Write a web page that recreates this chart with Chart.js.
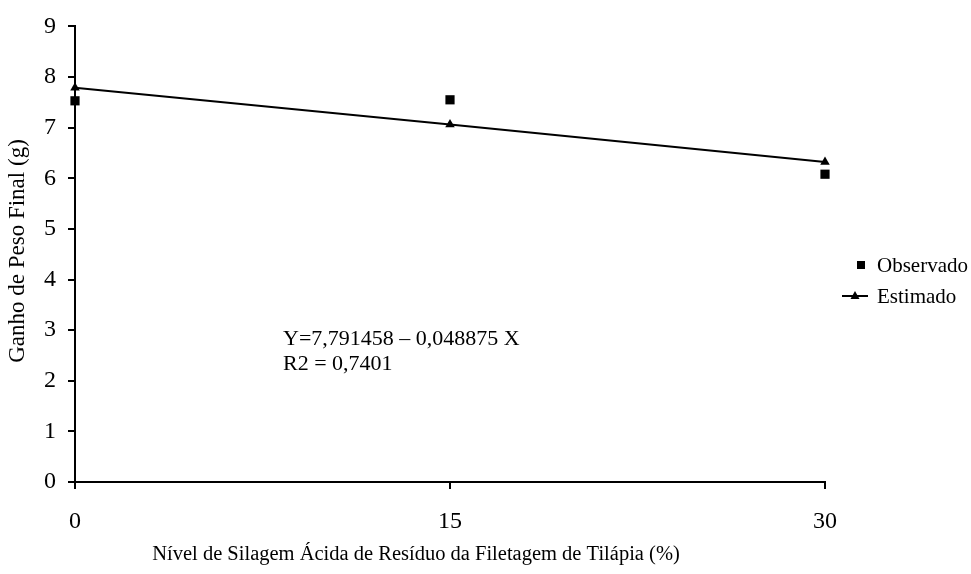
<!DOCTYPE html>
<html>
<head>
<meta charset="utf-8">
<script src="https://cdn.jsdelivr.net/npm/chart.js@4/dist/chart.umd.min.js"></script>
<style>
  html, body { margin: 0; padding: 0; background: #fff; }
  #wrap { width: 971px; height: 574px; position: relative; }
</style>
</head>
<body>
<div id="wrap"><canvas id="chart" width="971" height="574"></canvas></div>
<script>
// data
const niveis = [0, 15, 30];
const observado = [7.53, 7.55, 6.08];
const estimado = [7.79, 7.06, 6.32];
const yTicks = [0, 1, 2, 3, 4, 5, 6, 7, 8, 9];
const xTicks = [0, 15, 30];

const serif = '"Liberation Serif", "Times New Roman", serif';

const toPoints = (xs, ys) => xs.map((x, i) => ({ x: x, y: ys[i] }));

// legend, equation and axis titles drawn by hand so they sit where the original has them
const extras = {
  id: 'extras',
  afterDraw(chart) {
    const ctx = chart.ctx;
    ctx.save();
    ctx.fillStyle = '#000';
    ctx.strokeStyle = '#000';
    ctx.textBaseline = 'middle';

    // equation
    ctx.font = '22px ' + serif;
    ctx.textAlign = 'left';
    ctx.fillText('Y=7,791458 \u2013 0,048875 X', 283, 339);
    ctx.fillText('R2 = 0,7401', 283, 364);

    // legend
    ctx.font = '21px ' + serif;
    ctx.fillRect(857, 261, 8, 8);
    ctx.fillText('Observado', 877, 266);
    ctx.lineWidth = 2;
    ctx.beginPath();
    ctx.moveTo(842, 296);
    ctx.lineTo(868, 296);
    ctx.stroke();
    ctx.beginPath();
    ctx.moveTo(855, 291);
    ctx.lineTo(859.5, 299);
    ctx.lineTo(850.5, 299);
    ctx.closePath();
    ctx.fill();
    ctx.fillText('Estimado', 877, 297);

    // axis titles
    ctx.font = '20.5px ' + serif;
    ctx.textAlign = 'center';
    ctx.fillText('N\u00edvel de Silagem \u00c1cida de Res\u00edduo da Filetagem de Til\u00e1pia (%)', 416, 555);
    ctx.font = '23px ' + serif;
    ctx.translate(18, 251);
    ctx.rotate(-Math.PI / 2);
    ctx.fillText('Ganho de Peso Final (g)', 0, 0);
    ctx.restore();
  }
};

new Chart(document.getElementById('chart'), {
  type: 'scatter',
  data: {
    datasets: [
      {
        label: 'Estimado',
        data: toPoints(niveis, estimado),
        showLine: true,
        clip: false,
        borderColor: '#000',
        backgroundColor: '#000',
        borderWidth: 2,
        pointStyle: 'triangle',
        pointRadius: 5.5,
        pointBorderWidth: 0,
        tension: 0
      },
      {
        label: 'Observado',
        data: toPoints(niveis, observado),
        showLine: false,
        clip: false,
        borderColor: '#000',
        backgroundColor: '#000',
        pointStyle: 'rect',
        pointRadius: 6.5,
        pointBorderWidth: 0
      }
    ]
  },
  options: {
    responsive: false,
    animation: false,
    layout: { padding: { top: 22, right: 146, left: 0, bottom: 0 } },
    plugins: {
      legend: { display: false },
      tooltip: { enabled: false }
    },
    scales: {
      x: {
        type: 'linear',
        min: 0,
        max: 30,
        afterBuildTicks: (scale) => { scale.ticks = xTicks.map(v => ({ value: v })); },
        afterFit: (scale) => { scale.height = 92; },
        border: { display: true, color: '#000', width: 2 },
        grid: { display: true, drawOnChartArea: false, drawTicks: true, tickLength: 7, color: '#000', lineWidth: 2 },
        ticks: { color: '#000', font: { family: serif, size: 24 }, padding: 18, maxRotation: 0 }
      },
      y: {
        type: 'linear',
        min: 0,
        max: 9,
        afterBuildTicks: (scale) => { scale.ticks = yTicks.map(v => ({ value: v })); },
        afterFit: (scale) => { scale.width = 75; },
        border: { display: true, color: '#000', width: 2 },
        grid: { display: true, drawOnChartArea: false, drawTicks: true, tickLength: 7, color: '#000', lineWidth: 2 },
        ticks: { color: '#000', font: { family: serif, size: 24 }, padding: 12 }
      }
    }
  },
  plugins: [extras]
});
</script>
</body>
</html>
